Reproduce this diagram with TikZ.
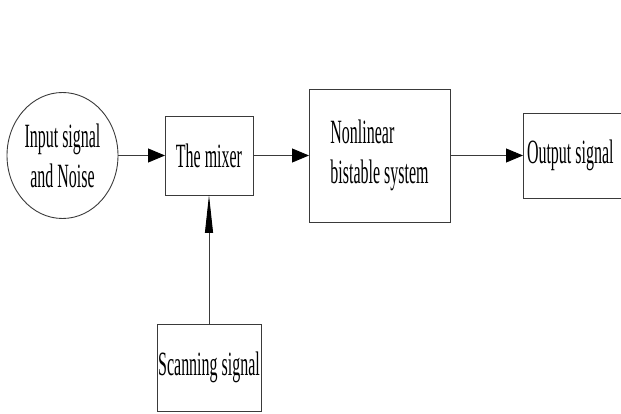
\documentclass[tikz,border=0pt]{standalone}
\usepackage{fontspec}
\setmainfont{Liberation Serif}[FakeStretch=0.47]
\usepackage{tikz}
\usetikzlibrary{
  shapes.geometric,
  arrows.meta,
  positioning
}
\definecolor{LineGrey}{HTML}{3A3A3A}
\tikzset{
  % Plain block: fixed size, text centred
  blk/.style={
    rectangle, draw=LineGrey, line width=0.9pt, outer sep=0pt,
    inner sep=0pt, align=center,
    font=\fontsize{34}{40}\selectfont
  },
  % Source ellipse
  src/.style={
    ellipse, draw=LineGrey, line width=0.9pt, outer sep=0pt,
    inner sep=0pt, minimum width=111pt, minimum height=126pt,
    align=center, font=\fontsize{34}{40}\selectfont
  },
  % Horizontal arrow
  arr/.style={
    -{Triangle[length=17pt,width=14pt,black]},
    line width=0.9pt, color=LineGrey
  },
  % Vertical arrow (narrow head)
  varr/.style={
    arr, -{Triangle[length=38pt,width=8pt,black]}
  }
}
\begin{document}
\begin{tikzpicture}[x=1pt, y=1pt]
  \useasboundingbox (0,0) rectangle (621,414);

  % Main flow, left to right
  \node[src] (input) at (62.5,258.5) {Input signal\\and Noise};
  \node[blk, minimum width=88pt,  minimum height=79pt,  right=47pt of input] (mixer)  {The mixer};
  \node[blk, minimum width=141pt, minimum height=133pt, align=left, right=56pt of mixer] (nonlin) {Nonlinear\\bistable system};
  % runs off the right edge of the page
  \node[blk, inner xsep=4pt, minimum height=85pt, right=73pt of nonlin] (output) {\makebox[104pt][l]{Output signal}};

  % Scanning signal feeds the mixer from below
  \node[blk, minimum width=104pt, minimum height=87pt,  below=129pt of mixer] (scan)   {Scanning signal};

  \draw[arr]  (input)  -- (mixer);
  \draw[arr]  (mixer)  -- (nonlin);
  \draw[arr]  (nonlin) -- (output);
  \draw[varr] (scan)   -- (mixer);

\end{tikzpicture}
\end{document}
